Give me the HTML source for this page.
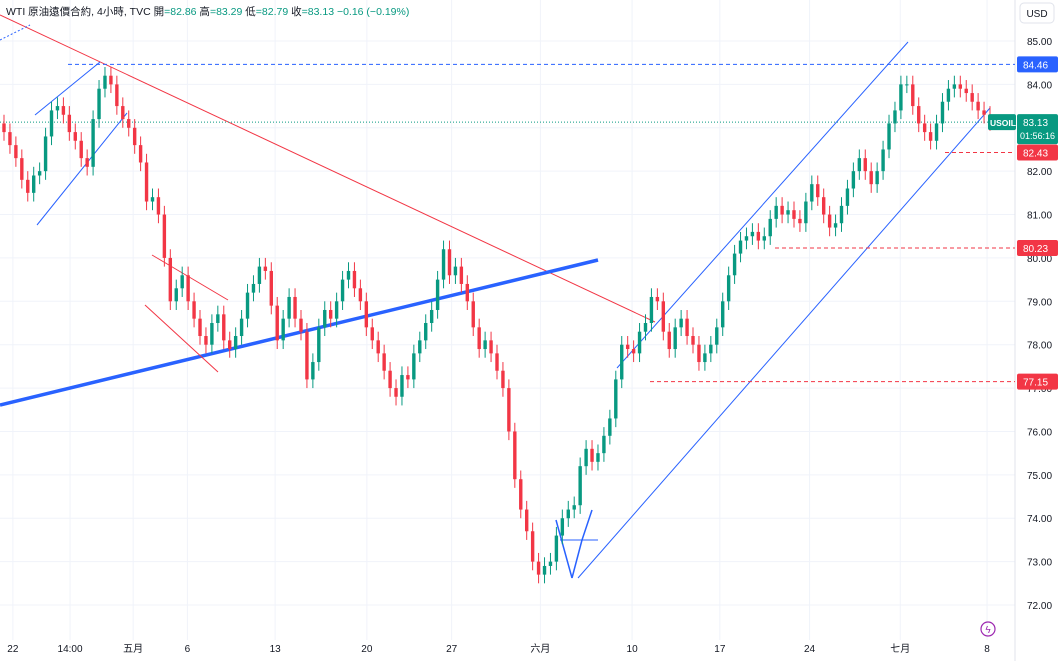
<!DOCTYPE html>
<html><head><meta charset="utf-8"><style>
body{margin:0;background:#fff;font-family:"Liberation Sans","Noto Sans CJK TC",sans-serif}
#c{position:absolute;left:0;top:0}
</style></head><body>
<svg id="c" width="1062" height="661" style="font-family:'Liberation Sans','Noto Sans CJK TC',sans-serif">
<g id="grid"></g><g id="lines"></g><g id="candles"></g><g id="axis"></g>
<text x="6" y="15" font-size="10.5" fill="#131722">WTI 原油遠價合約, 4小時, TVC <tspan> 開</tspan><tspan fill="#089981">=82.86</tspan><tspan>  高</tspan><tspan fill="#089981">=83.29</tspan><tspan>  低</tspan><tspan fill="#089981">=82.79</tspan><tspan>  收</tspan><tspan fill="#089981">=83.13  −0.16 (−0.19%)</tspan></text>
<rect x="1020" y="3" width="34" height="20" rx="4" fill="#fff" stroke="#e0e3eb"/>
<text x="1037" y="17" font-size="10" text-anchor="middle" fill="#131722">USD</text>
<circle cx="988" cy="629" r="7" fill="none" stroke="#9c27b0" stroke-width="1.2"/>
<text x="988" y="633" font-size="10" text-anchor="middle" fill="#9c27b0">ϟ</text>
</svg>
<script>
const closes=[82.9,82.6,82.3,81.8,81.5,81.9,82.0,82.8,83.4,83.5,83.3,82.9,82.7,82.3,82.1,83.2,83.9,84.2,84.0,83.5,83.2,83.0,82.6,82.2,81.3,81.4,81.0,80.0,79.0,79.3,79.6,79.0,78.6,78.2,78.0,78.5,78.7,78.1,77.9,78.2,78.6,79.2,79.4,79.8,79.7,78.9,78.1,78.6,79.1,78.6,78.3,77.2,77.6,78.4,78.8,78.6,79.0,79.5,79.7,79.3,79.0,78.4,78.1,77.8,77.4,77.0,76.8,77.3,77.2,77.8,78.1,78.5,78.8,79.5,80.2,79.6,79.8,79.4,79.0,78.4,77.9,78.1,77.8,77.4,77.0,76.0,74.9,74.2,73.7,73.0,72.7,72.9,73.0,73.6,74.0,74.2,74.3,75.2,75.6,75.3,75.5,75.9,76.3,77.2,78.0,77.9,77.8,78.3,78.5,79.1,79.0,78.3,77.9,78.4,78.6,78.2,78.0,77.6,77.8,78.0,78.4,79.0,79.6,80.1,80.4,80.5,80.6,80.4,80.5,80.9,81.2,81.0,81.1,80.9,80.8,81.3,81.7,81.4,81.0,80.7,80.8,81.2,81.6,82.0,82.3,82.0,81.7,82.0,82.5,83.1,83.4,84.0,84.0,83.5,83.1,82.9,82.7,83.1,83.6,83.9,84.0,83.9,83.8,83.6,83.4,83.3,83.13];
const priceTicks=[85,84,83,82,81,80,79,78,77,76,75,74,73,72];
const timeLabels=["22","14:00","五月","6","13","20","27","六月","10","17","24","七月","8"];
const timeFrac=[0.009,0.067,0.131,0.186,0.275,0.368,0.454,0.544,0.637,0.726,0.817,0.909,0.997];
const NS="http://www.w3.org/2000/svg";
const y=p=>41+(85-p)*43.385;
const step=986/(closes.length-1), x=i=>4+i*step;
const xf=f=>4+f*986;
function mk(t,a,parent){const e=document.createElementNS(NS,t);for(const k in a)e.setAttribute(k,a[k]);parent.appendChild(e);return e;}
const G=document.getElementById('grid'),L=document.getElementById('lines'),C=document.getElementById('candles'),A=document.getElementById('axis');
priceTicks.forEach(p=>{const l=mk('line',{x1:0,x2:1015,y1:y(p),y2:y(p),stroke:'#f0f3fa'},G);


const t=mk('text',{x:1027,y:y(p)+4,'font-size':10,fill:'#131722'},A);t.textContent=p.toFixed(2);

});
timeLabels.forEach((s,i)=>{const xx=xf(timeFrac[i]);mk('line',{x1:xx,x2:xx,y1:0,y2:640,stroke:'#f0f3fa'},G);
const t=mk('text',{x:xx,y:652,'font-size':10,fill:'#131722','text-anchor':'middle'},A);t.textContent=s;

});
mk('line',{x1:1015,x2:1015,y1:0,y2:661,stroke:'#e0e3eb'},G);
const ln=(a,b,c,d,col,w,da,name)=>{const e=mk('line',{x1:a,y1:b,x2:c,y2:d,stroke:col,'stroke-width':w||1,'stroke-dasharray':da||''},L);

};
ln(0,15,655,322,'#f23645',1,'','downtrend-line');
ln(0,405,598,260,'#2962ff',3.5,'','support-trendline');
ln(617,368,908,42,'#2962ff',1,'','channel-upper');
ln(578,578,990,108,'#2962ff',1,'','channel-lower');
ln(35,115,100,62,'#2962ff',1,'','small-channel-upper');
ln(37,225,127,113,'#2962ff',1,'','small-channel-lower');
ln(152,255,228,300,'#f23645',1,'','flag-upper');
ln(145,305,218,372,'#f23645',1,'','flag-lower');
ln(0,40,30,25,'#2962ff',1,'2,2','dotted-line');
ln(556,520,572,578,'#2962ff',1.5,'','w-pattern-1');
ln(572,578,582,540,'#2962ff',1.5,'','w-pattern-2');
ln(582,540,592,510,'#2962ff',1.5,'','w-pattern-3');
ln(560,540,598,540,'#2962ff',1,'','neckline');
ln(68,y(84.46),1015,y(84.46),'#2962ff',1,'4,3','level-84-46');
ln(945,y(82.43),1015,y(82.43),'#f23645',1,'4,3','level-82-43');
ln(775,y(80.23),1015,y(80.23),'#f23645',1,'4,3','level-80-23');
ln(650,y(77.15),1015,y(77.15),'#f23645',1,'4,3','level-77-15');
ln(0,y(83.13),1015,y(83.13),'#089981',1,'1,2','last-price-line');
closes.forEach((c,i)=>{const o=i?closes[i-1]:83.1;const up=c>=o;const col=up?'#089981':'#f23645';
const hi=Math.max(o,c)+0.2,lo=Math.min(o,c)-0.2;
const g=mk('g',{},C);


mk('line',{x1:x(i),x2:x(i),y1:y(hi),y2:y(lo),stroke:col},g);
const top=y(Math.max(o,c)),h=Math.max(1,Math.abs(y(o)-y(c)));
mk('rect',{x:x(i)-1.7,y:top,width:3.4,height:h,fill:col},g);});
function tag(p,col,txt,name,h){const r=mk('rect',{x:1017,y:y(p)-8,width:41,height:h||16,rx:2,fill:col},A);


const t=mk('text',{x:1023,y:y(p)+4,'font-size':10,fill:'#fff'},A);t.textContent=txt;}
tag(84.46,'#2962ff','84.46','tag-84-46');
tag(83.13,'#089981','83.13','tag-last-price',30);
const cd=mk('text',{x:1020,y:y(83.13)+17,'font-size':9,fill:'#fff'},A);cd.textContent='01:56:16';
tag(82.43,'#f23645','82.43','tag-82-43');
tag(80.23,'#f23645','80.23','tag-80-23');
tag(77.15,'#f23645','77.15','tag-77-15');
const sr=mk('rect',{x:988,y:y(83.13)-8,width:28,height:16,rx:2,fill:'#089981'},A);


const st=mk('text',{x:990,y:y(83.13)+4,'font-size':8.5,fill:'#fff','font-weight':'bold'},A);st.textContent='USOIL';
</script>
</body></html>
